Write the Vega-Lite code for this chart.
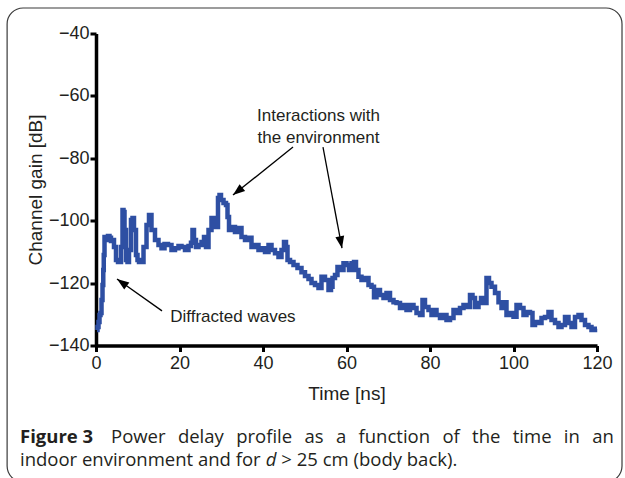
{
  "$schema": "https://vega.github.io/schema/vega-lite/v6.json",
  "width": 501,
  "height": 312,
  "autosize": {"type": "none"},
  "padding": {"left": 96, "top": 33.5, "right": 28, "bottom": 132.5},
  "background": "white",
  "config": {
    "view": {"stroke": null},
    "axis": {
      "grid": false,
      "domainColor": "black",
      "domainWidth": 3.5,
      "tickColor": "black",
      "tickWidth": 3,
      "tickSize": 6,
      "labelFont": "Liberation Sans",
      "labelFontSize": 18,
      "labelColor": "#231f20",
      "titleFont": "Liberation Sans",
      "titleFontSize": 19,
      "titleFontWeight": "normal",
      "titleColor": "#231f20",
      "labelFlush": false,
      "labelOverlap": false
    }
  },
  "layer": [
    {
      "data": {"values": [{}]},
      "mark": {"type": "rect", "filled": false, "stroke": "#3a3a3a", "strokeWidth": 1.2, "cornerRadius": 16},
      "encoding": {
        "x": {"datum": -21.29, "type": "quantitative"},
        "x2": {"datum": 125.99},
        "y": {"datum": -31.83, "type": "quantitative"},
        "y2": {"datum": -183.75}
      }
    },
    {
      "data": {"values": [
        {"t": 0.24, "g": -135.0}, {"t": 0.48, "g": -134.1}, {"t": 0.72, "g": -132.5}, {"t": 0.96, "g": -130.2},
        {"t": 1.2, "g": -129.6}, {"t": 1.44, "g": -125.4}, {"t": 1.68, "g": -120.6}, {"t": 1.8, "g": -115.8},
        {"t": 1.92, "g": -111.0}, {"t": 2.16, "g": -105.2}, {"t": 2.4, "g": -105.5}, {"t": 2.63, "g": -106.2},
        {"t": 3.11, "g": -104.9}, {"t": 3.35, "g": -105.5}, {"t": 3.83, "g": -106.5}, {"t": 4.07, "g": -106.2},
        {"t": 4.55, "g": -108.4}, {"t": 5.03, "g": -112.6}, {"t": 5.51, "g": -113.2}, {"t": 5.75, "g": -113.2},
        {"t": 6.23, "g": -108.4}, {"t": 6.47, "g": -96.6}, {"t": 6.71, "g": -97.2}, {"t": 6.95, "g": -103.0},
        {"t": 7.43, "g": -112.6}, {"t": 7.66, "g": -113.2}, {"t": 8.14, "g": -109.4}, {"t": 8.62, "g": -99.8},
        {"t": 8.86, "g": -99.1}, {"t": 9.34, "g": -103.0}, {"t": 9.82, "g": -111.0}, {"t": 10.06, "g": -112.6},
        {"t": 10.54, "g": -113.2}, {"t": 11.02, "g": -113.2}, {"t": 11.74, "g": -108.4}, {"t": 12.46, "g": -101.4},
        {"t": 12.93, "g": -98.2}, {"t": 13.65, "g": -103.0}, {"t": 14.61, "g": -106.2}, {"t": 15.33, "g": -107.8},
        {"t": 16.05, "g": -108.8}, {"t": 16.77, "g": -107.5}, {"t": 17.72, "g": -107.8}, {"t": 18.44, "g": -109.4},
        {"t": 19.4, "g": -108.8}, {"t": 20.12, "g": -108.1}, {"t": 20.84, "g": -108.4}, {"t": 21.8, "g": -109.4},
        {"t": 22.51, "g": -108.1}, {"t": 22.99, "g": -107.1}, {"t": 23.23, "g": -103.0}, {"t": 23.71, "g": -106.2},
        {"t": 24.19, "g": -108.4}, {"t": 24.91, "g": -107.8}, {"t": 25.63, "g": -106.8}, {"t": 26.11, "g": -105.2},
        {"t": 26.59, "g": -108.4}, {"t": 27.31, "g": -103.0}, {"t": 28.02, "g": -99.1}, {"t": 28.5, "g": -100.4},
        {"t": 28.98, "g": -102.0}, {"t": 29.46, "g": -92.7}, {"t": 29.7, "g": -91.8}, {"t": 30.18, "g": -93.4},
        {"t": 30.9, "g": -94.3}, {"t": 31.38, "g": -95.0}, {"t": 31.62, "g": -98.8}, {"t": 32.1, "g": -103.0},
        {"t": 32.81, "g": -102.0}, {"t": 33.77, "g": -103.6}, {"t": 34.49, "g": -102.3}, {"t": 35.21, "g": -105.2},
        {"t": 36.17, "g": -106.2}, {"t": 36.89, "g": -105.5}, {"t": 37.6, "g": -108.4}, {"t": 38.56, "g": -107.8},
        {"t": 39.28, "g": -109.4}, {"t": 40.0, "g": -108.8}, {"t": 40.96, "g": -110.0}, {"t": 41.68, "g": -107.8},
        {"t": 42.4, "g": -109.4}, {"t": 43.35, "g": -110.4}, {"t": 44.07, "g": -111.6}, {"t": 44.79, "g": -109.4},
        {"t": 45.27, "g": -106.8}, {"t": 45.75, "g": -108.4}, {"t": 45.99, "g": -112.6}, {"t": 46.95, "g": -113.2},
        {"t": 47.66, "g": -114.2}, {"t": 48.86, "g": -115.2}, {"t": 49.58, "g": -116.5}, {"t": 50.54, "g": -117.7},
        {"t": 51.26, "g": -118.7}, {"t": 51.98, "g": -120.0}, {"t": 52.93, "g": -120.6}, {"t": 53.65, "g": -121.6},
        {"t": 54.37, "g": -118.0}, {"t": 55.33, "g": -119.0}, {"t": 56.05, "g": -122.2}, {"t": 56.53, "g": -121.2},
        {"t": 56.77, "g": -118.4}, {"t": 57.72, "g": -117.4}, {"t": 57.96, "g": -114.8}, {"t": 58.92, "g": -115.8},
        {"t": 59.64, "g": -113.6}, {"t": 60.36, "g": -114.2}, {"t": 60.84, "g": -115.8}, {"t": 61.56, "g": -113.6},
        {"t": 62.04, "g": -113.2}, {"t": 62.51, "g": -115.8}, {"t": 63.23, "g": -118.0}, {"t": 63.95, "g": -119.0},
        {"t": 64.91, "g": -118.4}, {"t": 65.63, "g": -120.6}, {"t": 66.35, "g": -121.2}, {"t": 66.83, "g": -124.5},
        {"t": 67.54, "g": -122.2}, {"t": 68.5, "g": -123.8}, {"t": 69.22, "g": -124.8}, {"t": 69.94, "g": -123.2},
        {"t": 70.9, "g": -125.4}, {"t": 71.62, "g": -126.1}, {"t": 72.34, "g": -126.4}, {"t": 73.29, "g": -128.0},
        {"t": 74.01, "g": -127.0}, {"t": 74.73, "g": -128.6}, {"t": 75.69, "g": -127.0}, {"t": 76.41, "g": -128.0},
        {"t": 77.13, "g": -129.6}, {"t": 78.08, "g": -130.2}, {"t": 78.32, "g": -125.4}, {"t": 79.28, "g": -127.7},
        {"t": 80.0, "g": -128.6}, {"t": 80.72, "g": -130.2}, {"t": 81.2, "g": -128.6}, {"t": 81.92, "g": -130.2},
        {"t": 82.87, "g": -131.2}, {"t": 83.59, "g": -130.2}, {"t": 84.31, "g": -131.8}, {"t": 85.27, "g": -131.2},
        {"t": 85.99, "g": -128.6}, {"t": 86.71, "g": -129.6}, {"t": 87.66, "g": -128.0}, {"t": 88.38, "g": -127.0},
        {"t": 89.1, "g": -127.7}, {"t": 90.06, "g": -123.8}, {"t": 90.3, "g": -124.8}, {"t": 91.26, "g": -127.7},
        {"t": 91.98, "g": -126.4}, {"t": 92.46, "g": -124.8}, {"t": 93.17, "g": -126.4}, {"t": 93.89, "g": -118.4},
        {"t": 94.37, "g": -120.0}, {"t": 95.09, "g": -121.2}, {"t": 96.05, "g": -123.2}, {"t": 96.77, "g": -126.1},
        {"t": 97.49, "g": -128.0}, {"t": 97.96, "g": -126.1}, {"t": 98.68, "g": -130.2}, {"t": 99.64, "g": -129.6},
        {"t": 100.36, "g": -130.8}, {"t": 101.08, "g": -127.0}, {"t": 102.04, "g": -128.0}, {"t": 102.75, "g": -130.2},
        {"t": 103.47, "g": -129.3}, {"t": 104.43, "g": -129.6}, {"t": 104.67, "g": -133.4}, {"t": 105.63, "g": -132.5},
        {"t": 106.35, "g": -132.8}, {"t": 107.07, "g": -131.2}, {"t": 108.02, "g": -130.9}, {"t": 108.74, "g": -129.3},
        {"t": 109.46, "g": -131.8}, {"t": 110.42, "g": -132.8}, {"t": 111.14, "g": -134.1}, {"t": 111.86, "g": -133.4},
        {"t": 112.81, "g": -130.9}, {"t": 113.53, "g": -132.8}, {"t": 114.25, "g": -134.1}, {"t": 115.21, "g": -130.9},
        {"t": 115.93, "g": -130.2}, {"t": 116.65, "g": -131.8}, {"t": 117.6, "g": -133.4}, {"t": 118.32, "g": -134.1},
        {"t": 119.04, "g": -135.0}, {"t": 120.0, "g": -134.6}
      ]},
      "mark": {"type": "line", "interpolate": "step", "strokeWidth": 4.5, "color": "#2e4fa3", "strokeJoin": "miter"},
      "encoding": {
        "x": {"field": "t", "type": "quantitative", "scale": {"domain": [0, 120], "nice": false},
              "axis": {"title": "Time [ns]", "values": [0, 20, 40, 60, 80, 100, 120], "labelPadding": 3, "titlePadding": 12}},
        "y": {"field": "g", "type": "quantitative", "scale": {"domain": [-140, -40], "nice": false, "zero": false},
              "axis": {"title": "Channel gain [dB]", "values": [-140, -120, -100, -80, -60, -40], "labelPadding": 1, "titlePadding": 3}}
      }
    },
    {
      "data": {"values": [
        {"arrow": "peak", "x1": 47.19, "y1": -76.4, "x2": 32.81, "y2": -91.8},
        {"arrow": "bump", "x1": 54.37, "y1": -76.4, "x2": 58.92, "y2": -108.8},
        {"arrow": "diffracted", "x1": 15.81, "y1": -128.9, "x2": 5.03, "y2": -118.7}
      ]},
      "mark": {"type": "rule", "color": "black", "strokeWidth": 1.3},
      "encoding": {
        "x": {"field": "x1", "type": "quantitative"},
        "y": {"field": "y1", "type": "quantitative"},
        "x2": {"field": "x2"},
        "y2": {"field": "y2"}
      }
    },
    {
      "data": {"values": [{"x": 32.81, "y": -91.8}]},
      "mark": {"type": "point", "shape": "M0,0L0.37,1L-0.37,1Z", "filled": true, "color": "black", "opacity": 1, "size": 576, "angle": 231.3},
      "encoding": {"x": {"field": "x", "type": "quantitative"}, "y": {"field": "y", "type": "quantitative"}}
    },
    {
      "data": {"values": [{"x": 58.92, "y": -108.8}]},
      "mark": {"type": "point", "shape": "M0,0L0.37,1L-0.37,1Z", "filled": true, "color": "black", "opacity": 1, "size": 576, "angle": 169.3},
      "encoding": {"x": {"field": "x", "type": "quantitative"}, "y": {"field": "y", "type": "quantitative"}}
    },
    {
      "data": {"values": [{"x": 5.03, "y": -118.7}]},
      "mark": {"type": "point", "shape": "M0,0L0.37,1L-0.37,1Z", "filled": true, "color": "black", "opacity": 1, "size": 576, "angle": 305.4},
      "encoding": {"x": {"field": "x", "type": "quantitative"}, "y": {"field": "y", "type": "quantitative"}}
    },
    {
      "data": {"values": [
        {"label": "Interactions with", "x": 53.3, "y": -68.0},
        {"label": "the environment", "x": 53.3, "y": -75.1},
        {"label": "Diffracted waves", "x": 32.8, "y": -132.5}
      ]},
      "mark": {"type": "text", "align": "center", "baseline": "alphabetic", "font": "Liberation Sans", "fontSize": 17, "color": "#231f20"},
      "encoding": {
        "x": {"field": "x", "type": "quantitative"},
        "y": {"field": "y", "type": "quantitative"},
        "text": {"field": "label"}
      }
    },
    {
      "data": {"values": [{"text": "Figure 3"}]},
      "mark": {"type": "text", "align": "left", "baseline": "alphabetic", "font": "Open Sans", "fontSize": 18.5, "fontWeight": "bold", "color": "#231f20"},
      "encoding": {"x": {"datum": -18.2, "type": "quantitative"}, "y": {"datum": -171.25, "type": "quantitative"}, "text": {"field": "text"}}
    },
    {
      "data": {"values": [{"text": "Power\u2002\u2006delay\u2002\u2006profile\u2002\u2006as\u2002\u2006a\u2002\u2006function\u2002\u2006of\u2002\u2006the\u2002\u2006time\u2002\u2006in\u2002\u2006an", "x": 3.6, "y": -171.25},
                          {"text": "indoor environment and for", "x": -18.2, "y": -178.6},
                          {"text": "> 25 cm (body back).", "x": 44.4, "y": -178.6}]},
      "mark": {"type": "text", "align": "left", "baseline": "alphabetic", "font": "Open Sans", "fontSize": 18.5, "color": "#231f20"},
      "encoding": {"x": {"field": "x", "type": "quantitative"}, "y": {"field": "y", "type": "quantitative"}, "text": {"field": "text"}}
    },
    {
      "data": {"values": [{"text": "d"}]},
      "mark": {"type": "text", "align": "left", "baseline": "alphabetic", "font": "Open Sans", "fontSize": 18.5, "fontStyle": "italic", "color": "#231f20"},
      "encoding": {"x": {"datum": 40.65, "type": "quantitative"}, "y": {"datum": -178.6, "type": "quantitative"}, "text": {"field": "text"}}
    }
  ]
}
